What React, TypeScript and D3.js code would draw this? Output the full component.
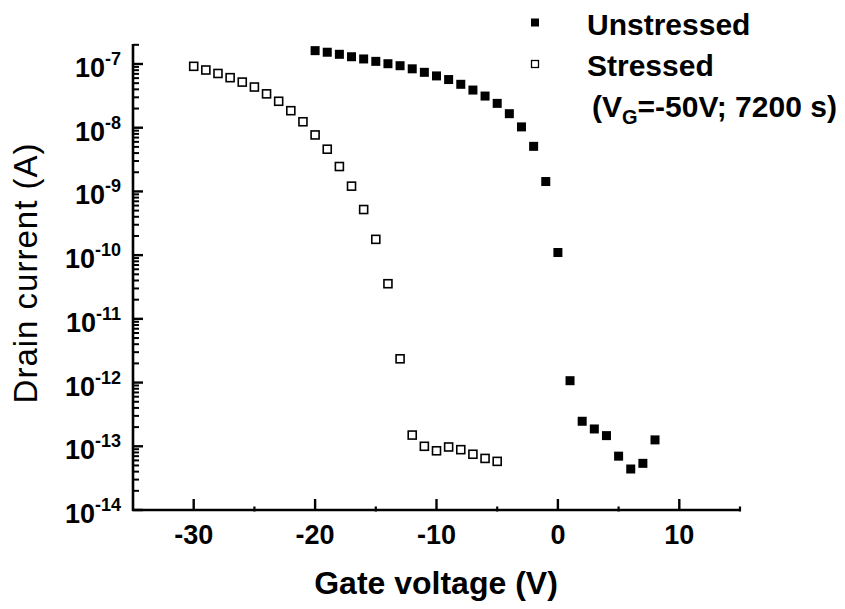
import React from "react";
import * as d3 from "d3";

const unstressedV = [-20, -19, -18, -17, -16, -15, -14, -13, -12, -11, -10, -9, -8, -7, -6, -5, -4, -3, -2, -1, 0, 1, 2, 3, 4, 5, 6, 7, 8];
const unstressedI = [1.62e-7, 1.53e-7, 1.42e-7, 1.3e-7, 1.2e-7, 1.1e-7, 1.01e-7, 9.4e-8, 8.4e-8, 7.4e-8, 6.5e-8, 5.7e-8, 4.8e-8, 3.9e-8, 3.14e-8, 2.41e-8, 1.66e-8, 1.03e-8, 5.1e-9, 1.43e-9, 1.1e-10, 1.07e-12, 2.47e-13, 1.87e-13, 1.47e-13, 7.0e-14, 4.4e-14, 5.4e-14, 1.26e-13];

const stressedV = [-30, -29, -28, -27, -26, -25, -24, -23, -22, -21, -20, -19, -18, -17, -16, -15, -14, -13, -12, -11, -10, -9, -8, -7, -6, -5];
const stressedI = [9.2e-8, 8.05e-8, 7.1e-8, 6.1e-8, 5.2e-8, 4.35e-8, 3.4e-8, 2.6e-8, 1.85e-8, 1.24e-8, 7.7e-9, 4.6e-9, 2.46e-9, 1.21e-9, 5.2e-10, 1.77e-10, 3.56e-11, 2.36e-12, 1.5e-13, 1.0e-13, 8.5e-14, 9.75e-14, 8.85e-14, 7.5e-14, 6.45e-14, 5.8e-14];

const xMajorTicks = [-30, -20, -10, 0, 10];
const xMinorTicks = [-25, -15, -5, 5, 15];
const yDecades = [-14, -13, -12, -11, -10, -9, -8, -7];

const legendLabels = ["Unstressed", "Stressed"];

const FONT = "'Liberation Sans', Arial, Helvetica, sans-serif";

export default function App() {
  const left = 133, right = 740, top = 44, bottom = 510;
  const x = d3.scaleLinear().domain([-35, 15]).range([left, right]);
  const y = d3.scaleLog().domain([1e-14, 2.06e-7]).range([bottom, top]);

  const minorY: number[] = [];
  yDecades.forEach((d) => {
    for (let k = 2; k <= 9; k++) {
      const v = k * Math.pow(10, d);
      if (v <= y.domain()[1]) minorY.push(v);
    }
  });

  const ms = 9;
  const hs = 8;

  return (
    <svg width={845} height={609} style={{ position: "absolute", left: 0, top: 0, background: "#fff" }} fontFamily={FONT}>
      <rect x={0} y={0} width={845} height={609} fill="#fff" />
      {/* axes */}
      <line x1={left} y1={top} x2={left} y2={bottom + 1} stroke="#000" strokeWidth={2.6} />
      <line x1={left - 1} y1={bottom} x2={right} y2={bottom} stroke="#000" strokeWidth={2.6} />
      {/* x ticks */}
      {xMajorTicks.map((t) => (
        <g key={"xm" + t}>
          <line x1={x(t)} x2={x(t)} y1={bottom} y2={bottom - 11} stroke="#000" strokeWidth={2.4} />
          <text x={x(t)} y={544} textAnchor="middle" fontSize={27} fontWeight="bold">{t}</text>
        </g>
      ))}
      {xMinorTicks.map((t) => (
        <line key={"xn" + t} x1={x(t)} x2={x(t)} y1={bottom + 1.5} y2={bottom - 3.5} stroke="#000" strokeWidth={2.2} />
      ))}
      {/* y ticks */}
      {yDecades.map((d) => {
        const v = Math.pow(10, d);
        return (
          <g key={"ym" + d}>
            <line x1={left} x2={left + 10} y1={y(v)} y2={y(v)} stroke="#000" strokeWidth={2.4} />
            <text x={121} y={y(v) + 13} textAnchor="end" fontWeight="bold" fontSize={27}>
              10<tspan dy={-12} fontSize={18}>{String(d)}</tspan>
            </text>
          </g>
        );
      })}
      {minorY.map((v, i) => (
        <line key={"yn" + i} x1={left} x2={left + 6} y1={y(v)} y2={y(v)} stroke="#000" strokeWidth={2} />
      ))}
      {/* data */}
      {stressedV.map((v, i) => (
        <rect key={"s" + i} x={x(v) - hs / 2} y={y(stressedI[i]) - hs / 2} width={hs} height={hs} fill="#fff" stroke="#000" strokeWidth={1.6} />
      ))}
      {unstressedV.map((v, i) => (
        <rect key={"u" + i} x={x(v) - ms / 2} y={y(unstressedI[i]) - ms / 2} width={ms} height={ms} fill="#000" />
      ))}
      {/* axis titles */}
      <text x={436} y={594} textAnchor="middle" fontSize={32} fontWeight="bold">Gate voltage (V)</text>
      <text transform="translate(37,273) rotate(-90)" textAnchor="middle" fontSize={33} letterSpacing={1}>Drain current (A)</text>
      {/* legend */}
      <rect x={531} y={18.5} width={8} height={8} fill="#000" />
      <text x={587} y={35} fontSize={30} fontWeight="bold">{legendLabels[0]}</text>
      <rect x={531.5} y={60.5} width={7} height={7} fill="#fff" stroke="#000" strokeWidth={1.3} />
      <text x={587} y={76} fontSize={30} fontWeight="bold">{legendLabels[1]}</text>
      <text x={592} y={117} fontSize={30} fontWeight="bold">
        (V<tspan dy={7} fontSize={20}>G</tspan><tspan dy={-7}>=-50V; 7200 s)</tspan>
      </text>
    </svg>
  );
}
